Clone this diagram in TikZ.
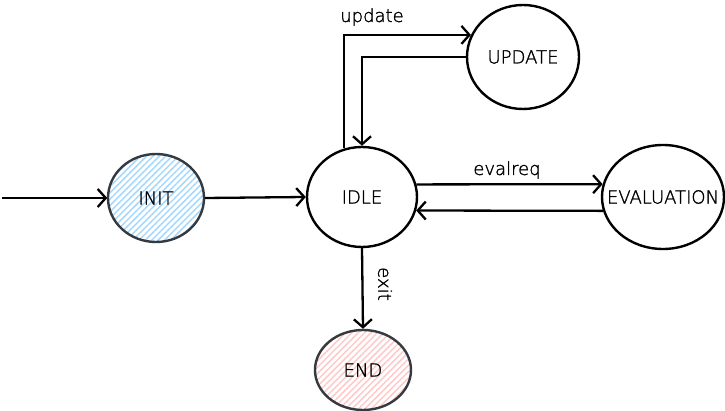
\documentclass[tikz,border=0pt]{standalone}
\usepackage{fontspec}
\setmainfont{DejaVu Sans ExtraLight}[FakeBold=1.5]
\usetikzlibrary{shapes.geometric,arrows.meta,patterns.meta}
\definecolor{hatchblue}{HTML}{A5D8FF}
\definecolor{hatchpink}{HTML}{FFC9C9}
\definecolor{inkgray}{HTML}{343A40}
\tikzset{
  state/.style={ellipse, draw, line width=2.4pt, inner sep=0pt,
    font=\fontsize{18}{20}\selectfont},
  bluefill/.style={draw=inkgray, pattern={Lines[angle=45,distance=4.5pt,line width=1.5pt]}, pattern color=hatchblue},
  pinkfill/.style={draw=inkgray, pattern={Lines[angle=45,distance=4.5pt,line width=1.5pt]}, pattern color=hatchpink},
  trans/.style={line width=2.3pt, -{Straight Barb[length=8pt,width=18pt]}},
  lbl/.style={font=\fontsize{18}{20}\selectfont, inner sep=0pt}
}

\begin{document}
\begin{tikzpicture}[x=1pt, y=-1pt]
  \useasboundingbox (0,0) rectangle (725,411);
  % states
  \node[state, bluefill, minimum width=96pt, minimum height=88pt] (init) at (156,198) {INIT};
  \node[state, minimum width=110pt, minimum height=100pt] (idle) at (362,197) {IDLE};
  \node[state, minimum width=112pt, minimum height=104pt] (update) at (523,57) {UPDATE};
  \node[state, inner xsep=-16pt, minimum width=122pt, minimum height=104pt] (eval) at (663,197) {EVALUATION};
  \node[state, pinkfill, minimum width=96pt, minimum height=80pt] (end) at (363,370) {END};
  \coordinate (start) at (2,198);

  % transitions
  \draw[trans] (start) -- (init.west);
  \draw[trans] (init.east) -- (idle.west);
  \draw[trans] (idle.110) |- (update.157);
  \draw[trans] (update.west) -| (idle.north);
  \draw[trans] (idle.13) -- (eval.168);
  \draw[trans] (eval.193) -- (idle.346);
  \draw[trans] (idle.south) -- (end.north);

  % labels
  \node[lbl] (updatelbl) at (372,17) {update};
  \node[lbl] (evallbl) at (507,170) {evalreq};
  \node[lbl, rotate=-90] (exitlbl) at (385,284) {exit};
\end{tikzpicture}
\end{document}
